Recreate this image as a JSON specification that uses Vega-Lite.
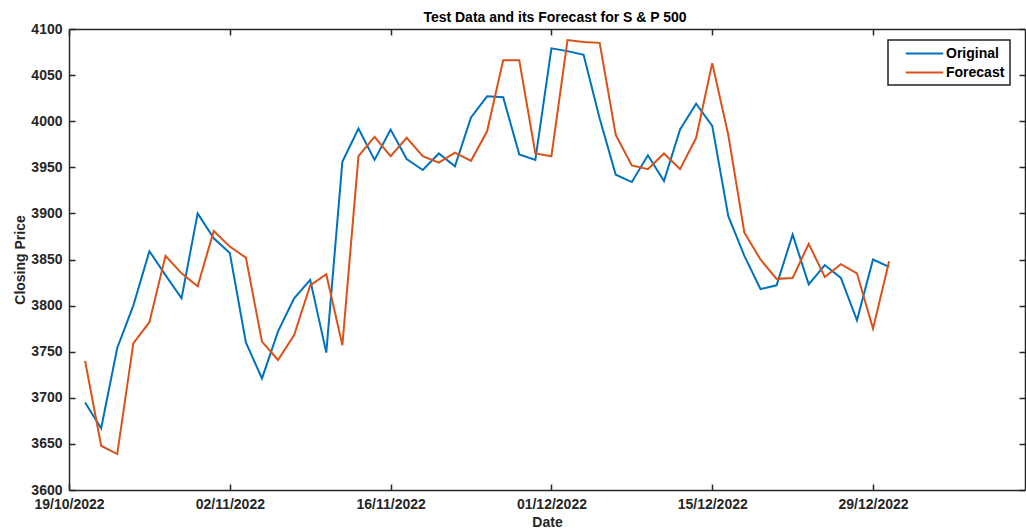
{
  "$schema": "https://vega.github.io/schema/vega-lite/v6.json",
  "autosize": "none",
  "width": 956,
  "height": 461,
  "padding": {"left": 69, "top": 29, "right": 1, "bottom": 41},
  "background": "white",
  "config": {
    "view": {"stroke": null},
    "font": "Liberation Sans"
  },
  "title": {
    "text": "Test Data and its Forecast for S & P 500",
    "font": "Liberation Sans",
    "fontSize": 14,
    "fontWeight": "bold",
    "color": "#000000",
    "anchor": "middle",
    "offset": 7,
    "dx": 8,
    "dy": 10
  },
  "data": {
    "values": [
      {"t": 1, "Original": 3695, "Forecast": 3740},
      {"t": 2, "Original": 3667, "Forecast": 3648},
      {"t": 3, "Original": 3754, "Forecast": 3639},
      {"t": 4, "Original": 3800, "Forecast": 3759},
      {"t": 5, "Original": 3859, "Forecast": 3782},
      {"t": 6, "Original": 3833, "Forecast": 3854},
      {"t": 7, "Original": 3808, "Forecast": 3835},
      {"t": 8, "Original": 3900, "Forecast": 3821},
      {"t": 9, "Original": 3873, "Forecast": 3881},
      {"t": 10, "Original": 3857, "Forecast": 3864},
      {"t": 11, "Original": 3760, "Forecast": 3852},
      {"t": 12, "Original": 3721, "Forecast": 3761},
      {"t": 13, "Original": 3772, "Forecast": 3741},
      {"t": 14, "Original": 3808, "Forecast": 3768},
      {"t": 15, "Original": 3828, "Forecast": 3822},
      {"t": 16, "Original": 3749, "Forecast": 3834},
      {"t": 17, "Original": 3956, "Forecast": 3757},
      {"t": 18, "Original": 3992, "Forecast": 3962},
      {"t": 19, "Original": 3958, "Forecast": 3983},
      {"t": 20, "Original": 3991, "Forecast": 3962},
      {"t": 21, "Original": 3959, "Forecast": 3982},
      {"t": 22, "Original": 3947, "Forecast": 3962},
      {"t": 23, "Original": 3965, "Forecast": 3955},
      {"t": 24, "Original": 3951, "Forecast": 3966},
      {"t": 25, "Original": 4004, "Forecast": 3957},
      {"t": 26, "Original": 4027, "Forecast": 3989},
      {"t": 27, "Original": 4026, "Forecast": 4066},
      {"t": 28, "Original": 3964, "Forecast": 4066},
      {"t": 29, "Original": 3958, "Forecast": 3965},
      {"t": 30, "Original": 4079, "Forecast": 3962},
      {"t": 31, "Original": 4076, "Forecast": 4088},
      {"t": 32, "Original": 4072, "Forecast": 4086},
      {"t": 33, "Original": 4003, "Forecast": 4085},
      {"t": 34, "Original": 3942, "Forecast": 3985},
      {"t": 35, "Original": 3934, "Forecast": 3952},
      {"t": 36, "Original": 3963, "Forecast": 3948},
      {"t": 37, "Original": 3935, "Forecast": 3965},
      {"t": 38, "Original": 3991, "Forecast": 3948},
      {"t": 39, "Original": 4019, "Forecast": 3982},
      {"t": 40, "Original": 3995, "Forecast": 4063},
      {"t": 41, "Original": 3897, "Forecast": 3985},
      {"t": 42, "Original": 3854, "Forecast": 3879},
      {"t": 43, "Original": 3818, "Forecast": 3850},
      {"t": 44, "Original": 3822, "Forecast": 3829},
      {"t": 45, "Original": 3877, "Forecast": 3830},
      {"t": 46, "Original": 3823, "Forecast": 3867},
      {"t": 47, "Original": 3844, "Forecast": 3831},
      {"t": 48, "Original": 3830, "Forecast": 3845},
      {"t": 49, "Original": 3784, "Forecast": 3835},
      {"t": 50, "Original": 3850, "Forecast": 3775},
      {"t": 51, "Original": 3842, "Forecast": 3848}
    ]
  },
  "transform": [{"fold": ["Original", "Forecast"], "as": ["series", "value"]}],
  "layer": [
    {
      "mark": {"type": "line", "strokeWidth": 2, "clip": true},
      "encoding": {
        "x": {
          "field": "t",
          "type": "quantitative",
          "scale": {"domain": [0, 59.45], "nice": false, "zero": false},
          "axis": {
            "orient": "bottom",
            "values": [0, 10, 20, 30, 40, 50],
            "labelExpr": "datum.value == 0 ? '19/10/2022' : datum.value == 10 ? '02/11/2022' : datum.value == 20 ? '16/11/2022' : datum.value == 30 ? '01/12/2022' : datum.value == 40 ? '15/12/2022' : '29/12/2022'",
            "title": "Date",
            "titleFont": "Liberation Sans",
            "titleFontSize": 14,
            "titleFontWeight": "bold",
            "titleColor": "#262626",
            "titlePadding": 4,
            "labelFont": "Liberation Sans",
            "labelFontSize": 14,
            "labelFontWeight": "bold",
            "labelColor": "#262626",
            "labelPadding": 13,
            "labelFlush": false,
            "labelOverlap": false,
            "grid": false,
            "tickSize": -6,
            "tickWidth": 1.5,
            "tickColor": "#262626",
            "domainColor": "#262626",
            "domainWidth": 1.5
          }
        },
        "y": {
          "field": "value",
          "type": "quantitative",
          "scale": {"domain": [3600, 4100], "nice": false, "zero": false},
          "axis": {
            "orient": "left",
            "values": [3600, 3650, 3700, 3750, 3800, 3850, 3900, 3950, 4000, 4050, 4100],
            "format": "d",
            "title": "Closing Price",
            "titleFont": "Liberation Sans",
            "titleFontSize": 14,
            "titleFontWeight": "bold",
            "titleColor": "#262626",
            "titlePadding": 3,
            "labelFont": "Liberation Sans",
            "labelFontSize": 14,
            "labelFontWeight": "bold",
            "labelColor": "#262626",
            "labelPadding": 13,
            "labelOverlap": false,
            "labelFlush": false,
            "grid": false,
            "tickSize": -6,
            "tickWidth": 1.5,
            "tickColor": "#262626",
            "domainColor": "#262626",
            "domainWidth": 1.5
          }
        },
        "color": {
          "field": "series",
          "type": "nominal",
          "scale": {"domain": ["Original", "Forecast"], "range": ["#0072BD", "#D95319"]},
          "legend": {
            "title": null,
            "orient": "none",
            "legendX": 819,
            "legendY": 11,
            "direction": "vertical",
            "symbolType": "M-2.5,0H2.5",
            "symbolSize": 225,
            "symbolStrokeWidth": 2,
            "symbolOffset": 23,
            "labelFont": "Liberation Sans",
            "labelFontSize": 14,
            "labelFontWeight": "bold",
            "labelColor": "#000000",
            "labelOffset": 13,
            "labelExpr": "datum.label + '      '",
            "rowPadding": 3,
            "padding": 5,
            "strokeColor": "#222222",
            "fillColor": "#ffffff",
            "cornerRadius": 0,
            "encode": {"legend": {"update": {"strokeWidth": {"value": 1.5}}}}
          }
        }
      }
    },
    {
      "mark": {"type": "point", "opacity": 0},
      "encoding": {
        "x": {
          "field": "t",
          "type": "quantitative",
          "axis": {
            "orient": "top",
            "values": [0, 10, 20, 30, 40, 50],
            "labels": false,
            "title": null,
            "grid": false,
            "tickSize": -6,
            "tickWidth": 1.5,
            "tickColor": "#262626",
            "domainColor": "#262626",
            "domainWidth": 1.5
          }
        },
        "y": {
          "field": "value",
          "type": "quantitative",
          "axis": {
            "orient": "right",
            "values": [3600, 3650, 3700, 3750, 3800, 3850, 3900, 3950, 4000, 4050, 4100],
            "labels": false,
            "title": null,
            "grid": false,
            "tickSize": -6,
            "tickWidth": 1.5,
            "tickColor": "#262626",
            "domainColor": "#262626",
            "domainWidth": 1.5
          }
        }
      }
    }
  ],
  "resolve": {"axis": {"x": "independent", "y": "independent"}}
}
